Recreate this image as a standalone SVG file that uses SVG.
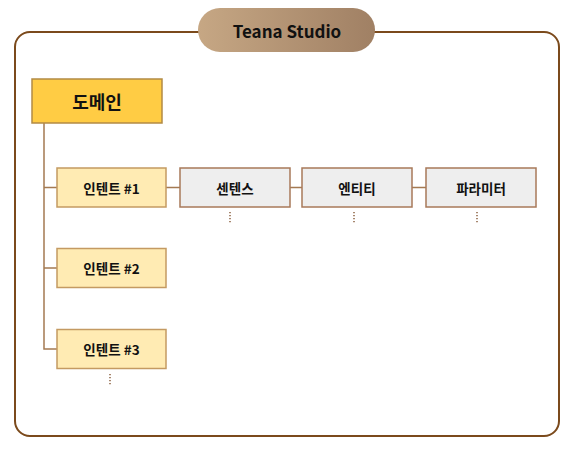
<svg xmlns="http://www.w3.org/2000/svg" width="573" height="449" viewBox="0 0 573 449">
<defs>
<linearGradient id="pill" x1="0" y1="0" x2="1" y2="0">
<stop offset="0" stop-color="#c6a784"/>
<stop offset="1" stop-color="#a08064"/>
</linearGradient>
<style>
.frame{fill:#ffffff;stroke:#7b4a1c;stroke-width:2}
.conn{fill:none;stroke:#a47a52;stroke-width:1.5}
.dots{fill:none;stroke:#8a6040;stroke-width:1.5;stroke-dasharray:1.2 1.8}
.intent{fill:#ffebb3;stroke:#c49a62;stroke-width:1.5}
.gray{fill:#eeeeee;stroke:#a8795a;stroke-width:1.5}
.domain{fill:#ffcc44;stroke:#b38a44;stroke-width:1.5}
.lbl{font-family:"Noto Sans CJK KR","Noto Sans",sans-serif;font-weight:700;font-size:13.5px;fill:#111;text-anchor:middle;dominant-baseline:central}
.big{font-family:"Noto Sans CJK KR","Noto Sans",sans-serif;font-weight:700;font-size:18px;fill:#111;text-anchor:middle;dominant-baseline:central}
</style>
</defs>
<rect class="frame" x="15" y="32" width="544" height="404" rx="15"/>
<g id="title">
<rect x="198" y="8" width="177" height="44" rx="22" fill="url(#pill)"/>
<text class="big" x="287" y="30" style="font-size:17px">Teana Studio</text>
</g>
<g id="connectors">
<path class="conn" d="M44 123 V349 H57 M44 187.5 H57 M44 268 H57 M166 187.5 H180 M290 187.5 H302 M412 187.5 H426"/>
<path class="dots" d="M230 212 V223 M354 212 V223 M477 212 V223 M110 374 V386"/>
</g>
<g id="domain">
<rect class="domain" x="32" y="79" width="130" height="44"/>
<text class="big" x="97" y="101">도메인</text>
</g>
<g id="intent1">
<rect class="intent" x="57" y="168" width="109" height="39"/>
<text class="lbl" x="111.5" y="187.5">인텐트 #1</text>
</g>
<g id="sentence">
<rect class="gray" x="180" y="168" width="110" height="39"/>
<text class="lbl" x="235" y="187.5">센텐스</text>
</g>
<g id="entity">
<rect class="gray" x="302" y="168" width="110" height="39"/>
<text class="lbl" x="357" y="187.5">엔티티</text>
</g>
<g id="parameter">
<rect class="gray" x="426" y="168" width="110" height="39"/>
<text class="lbl" x="481" y="187.5">파라미터</text>
</g>
<g id="intent2">
<rect class="intent" x="57" y="248.5" width="109" height="39"/>
<text class="lbl" x="111.5" y="268">인텐트 #2</text>
</g>
<g id="intent3">
<rect class="intent" x="57" y="329.5" width="109" height="39"/>
<text class="lbl" x="111.5" y="349">인텐트 #3</text>
</g>
</svg>
